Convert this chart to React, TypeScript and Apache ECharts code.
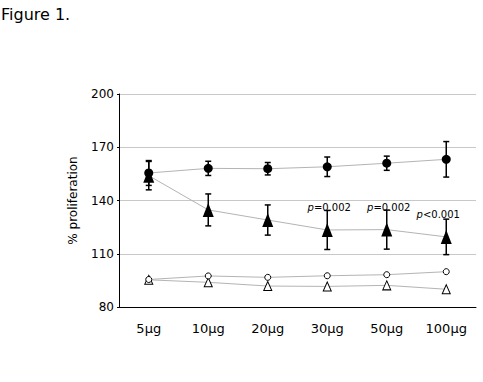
import React, { useEffect, useRef } from "react";
import * as echarts from "echarts";

const categories = ["5\u00b5g", "10\u00b5g", "20\u00b5g", "30\u00b5g", "50\u00b5g", "100\u00b5g"];
const filledCircle = [155.5, 158.1, 157.9, 159.0, 161.0, 163.2];
const filledCircleErr = [7, 4, 3.5, 5.5, 4, 10];
const filledTriangle = [154, 134.7, 129, 123.4, 123.6, 119.5];
const filledTriangleErr = [8, 9, 8.5, 11, 11, 10];
const openCircle = [95.5, 97.5, 96.7, 97.6, 98.2, 99.9];
const openTriangle = [95.3, 93.9, 91.8, 91.6, 92.2, 90.0];
const pLabels = ["", "", "", "=0.002", "=0.002", "<0.001"];
const yTicks = [80, 110, 140, 170, 200];

const errData = (vals: number[], errs: number[]) =>
  vals.map((v, i) => [i, v - errs[i], v + errs[i]]);

const errorBarSeries = (vals: number[], errs: number[]) => ({
  type: "custom",
  data: errData(vals, errs),
  z: 3,
  renderItem: (params: any, api: any) => {
    const i = api.value(0);
    const lo = api.coord([i, api.value(1)]);
    const hi = api.coord([i, api.value(2)]);
    const cap = 3;
    const style = { stroke: "#000", lineWidth: 1.5 };
    return {
      type: "group",
      children: [
        { type: "line", shape: { x1: lo[0], y1: lo[1], x2: hi[0], y2: hi[1] }, style },
        { type: "line", shape: { x1: lo[0] - cap, y1: lo[1], x2: lo[0] + cap, y2: lo[1] }, style },
        { type: "line", shape: { x1: hi[0] - cap, y1: hi[1], x2: hi[0] + cap, y2: hi[1] }, style },
      ],
    };
  },
});

export default function App() {
  const ref = useRef<HTMLDivElement>(null);
  useEffect(() => {
    if (!ref.current) return;
    const chart = echarts.init(ref.current, null, { renderer: "svg" });
    const font = "DejaVu Sans, Verdana, sans-serif";
    const lineStyle = { color: "#b4b4b4", width: 1 };
    chart.setOption({
      animation: false,
      textStyle: { fontFamily: font },
      graphic: [
        {
          type: "text",
          left: 1,
          top: 6,
          style: { text: "Figure 1.", font: "16px DejaVu Sans, Verdana, sans-serif", fill: "#000" },
        },
      ],
      grid: { left: 119, top: 94, width: 357, height: 213 },
      xAxis: {
        type: "category",
        data: categories,
        boundaryGap: true,
        axisLine: { lineStyle: { color: "#000", width: 1 } },
        axisTick: { show: false },
        axisLabel: { color: "#000", fontSize: 13, fontFamily: font, margin: 15 },
      },
      yAxis: {
        type: "value",
        min: yTicks[0],
        max: yTicks[yTicks.length - 1],
        interval: 30,
        name: "% proliferation",
        nameLocation: "middle",
        nameGap: 40,
        nameTextStyle: { color: "#000", fontSize: 12, fontFamily: font },
        axisLine: { show: true, lineStyle: { color: "#000", width: 1 } },
        axisTick: { show: true, length: 2, lineStyle: { color: "#000" } },
        axisLabel: { color: "#000", fontSize: 12, fontFamily: font, margin: 5 },
        splitLine: { lineStyle: { color: "#c8c8c8", width: 1 } },
      },
      series: [
        {
          type: "line",
          data: openTriangle,
          symbol: "triangle",
          symbolSize: [8, 9],
          lineStyle,
          itemStyle: { color: "#fff", borderColor: "#000", borderWidth: 1 },
          z: 2,
        },
        {
          type: "line",
          data: openCircle,
          symbol: "circle",
          symbolSize: 6,
          lineStyle,
          itemStyle: { color: "#fff", borderColor: "#000", borderWidth: 1 },
          z: 2,
        },
        errorBarSeries(filledCircle, filledCircleErr),
        errorBarSeries(filledTriangle, filledTriangleErr),
        {
          type: "line",
          data: filledCircle,
          symbol: "circle",
          symbolSize: 9,
          lineStyle,
          itemStyle: { color: "#000" },
          z: 4,
        },
        {
          type: "line",
          data: filledTriangle.map((v, i) => ({
            value: v,
            label: {
              show: pLabels[i] !== "",
              position: "top",
              distance: 10,
              offset: i === 5 ? [-8, 0] : [2, 0],
              formatter: "{i|p}" + pLabels[i],
              color: "#000",
              fontSize: 10,
              fontFamily: font,
              rich: { i: { fontStyle: "italic", fontSize: 10, fontFamily: font, color: "#000" } },
            },
          })),
          symbol: "triangle",
          symbolSize: [11, 14],
          lineStyle,
          itemStyle: { color: "#000" },
          z: 4,
        },
      ],
    });
    return () => chart.dispose();
  }, []);
  return (
    <div
      ref={ref}
      style={{ position: "absolute", left: 0, top: 0, width: 483, height: 382 }}
    />
  );
}
